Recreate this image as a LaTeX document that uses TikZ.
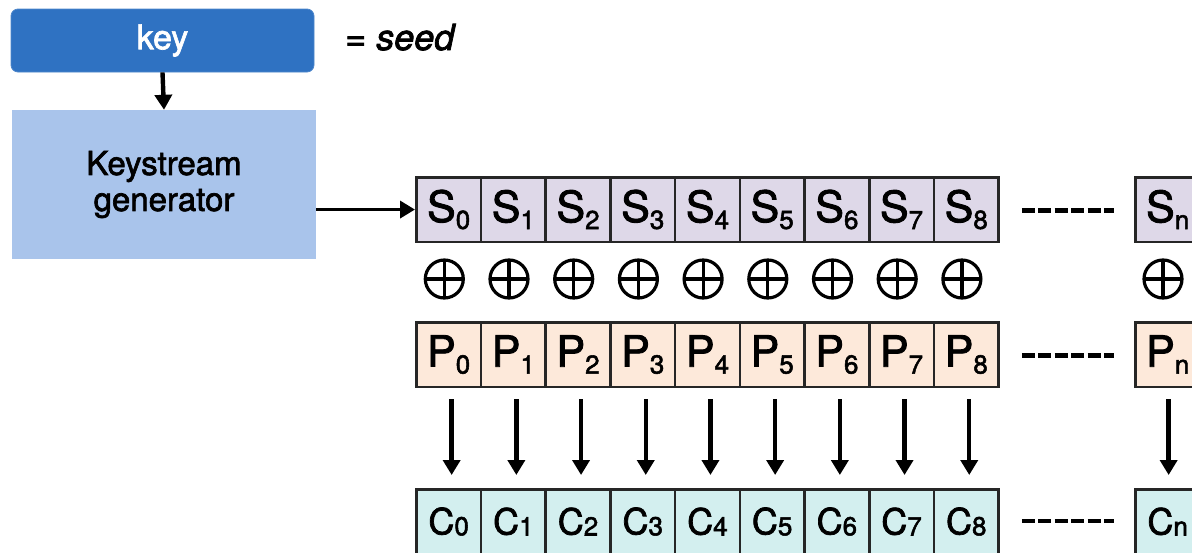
\documentclass[tikz,border=0pt]{standalone}
\usepackage{fontspec}
\setmainfont{TeX Gyre Heros}[FakeBold=2]
\usetikzlibrary{arrows.meta}

\definecolor{keyblue}{RGB}{47,114,194}
\definecolor{genblue}{RGB}{169,196,235}
\definecolor{scell}{RGB}{222,216,232}
\definecolor{pcell}{RGB}{253,233,218}
\definecolor{ccell}{RGB}{211,239,239}

% letter with a lowered index, as printed in the stream cells
\newcommand{\celllabel}[4]{{\fontsize{#3}{#3}\selectfont #1}\raisebox{#4}{\fontsize{26}{26}\selectfont #2}}

\begin{document}
\begin{tikzpicture}[x=1pt,y=-1pt,
  cell/.style={draw=black!85, line width=2.6pt, minimum width=64.7pt,
    minimum height=64.5pt, inner sep=0pt, anchor=north west},
  xorop/.style={circle, draw=black, line width=3.2pt, minimum size=38pt,
    inner sep=0pt, path picture={
      \draw[line width=3.2pt] (path picture bounding box.north) -- (path picture bounding box.south)
        (path picture bounding box.west) -- (path picture bounding box.east);}},
  arr/.style={line width=4.4pt, -{Triangle[width=17pt,length=15pt]}},
  dots/.style={line width=4.5pt, dash pattern=on 13pt off 3.4pt},
]
\useasboundingbox (0,0) rectangle (1192,552);
\clip (0,0) rectangle (1192,552);

% key and generator
\node[fill=keyblue, draw=keyblue!85!white, line width=0.8pt, rounded corners=7pt,
  minimum width=303pt, minimum height=63pt, text=white,
  font=\fontsize{34}{34}\selectfont] (key) at (162.5,40.5) {key};
\node[anchor=base west, inner sep=0pt, font=\fontsize{36}{36}\selectfont\itshape] (seed) at (345,50) {= seed};
\node[fill=genblue, minimum width=304pt, minimum height=149pt, align=center,
  font=\fontsize{33}{36}\selectfont] (gen) at (164,184.5) {Keystream\\generator};
\draw[arr] (key.south) -- (gen.north);

% keystream, plaintext and ciphertext cells
\foreach \i in {0,...,8} {
  \node[cell, fill=scell] (s\i) at ({415+64.7*\i},176) {\celllabel{S}{\i}{43}{-7pt}};
  \node[cell, fill=pcell] (p\i) at ({415+64.7*\i},321) {\celllabel{P}{\i}{43}{-7pt}};
  \node[cell, fill=ccell] (c\i) at ({415+64.7*\i},488) {\celllabel{C}{\i}{36}{-1pt}};
  \node[xorop] (x\i) at ({444.3+64.7*\i},279) {};
  \draw[arr, shorten <=11pt, shorten >=13pt] ([xshift=3pt]p\i.south) -- ([xshift=3pt]c\i.north);
}
\node[cell, fill=scell] (sn) at (1134,176) {\celllabel{S}{n}{43}{-7pt}};
\node[cell, fill=pcell] (pn) at (1134,321) {\celllabel{P}{n}{43}{-7pt}};
\node[cell, fill=ccell] (cn) at (1134,488) {\celllabel{C}{n}{36}{-1pt}};
\node[xorop] (xn) at (1163,279) {};
\draw[arr, shorten <=11pt, shorten >=13pt] ([xshift=1pt]pn.south) -- ([xshift=1pt]cn.north);

\draw[arr, line width=3.6pt] (gen.east |- s0.west) -- (s0.west);

% elided cells
\draw[dots, shorten <=22pt, shorten >=20pt] ([yshift=-1pt]s8.east) -- ([yshift=-1pt]sn.west);
\draw[dots, shorten <=22pt, shorten >=20pt] ([yshift=-1pt]p8.east) -- ([yshift=-1pt]pn.west);
\draw[dots, shorten <=22pt, shorten >=20pt] (c8.east |- 0,521) -- (cn.west |- 0,521);
\end{tikzpicture}
\end{document}
